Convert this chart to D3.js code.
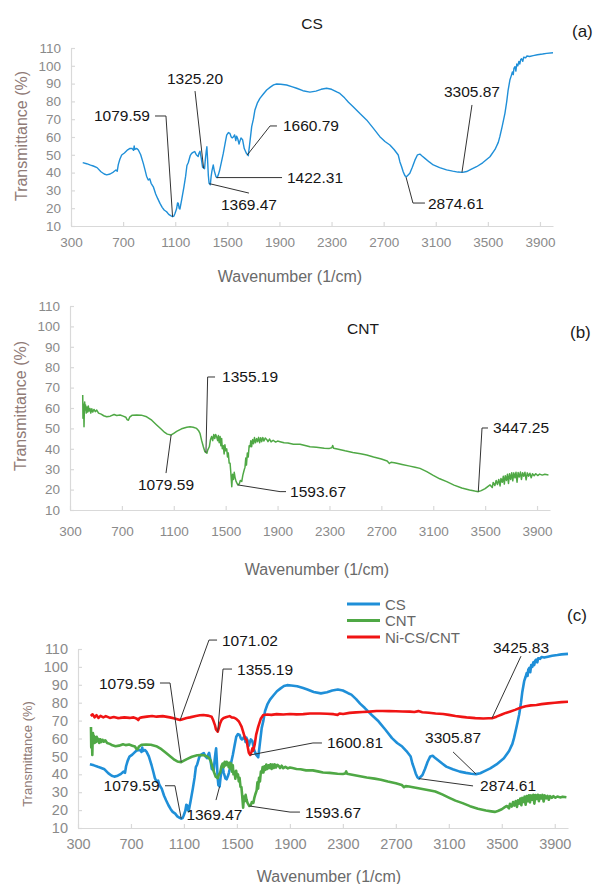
<!DOCTYPE html>
<html>
<head>
<meta charset="utf-8">
<script src="https://cdn.jsdelivr.net/npm/d3@7"></script>
<style>
  body { margin: 0; background: #fff; }
  svg { display: block; }
  text { font-family: "Liberation Sans", Arial, sans-serif; }
</style>
</head>
<body>
<svg id="chart" width="595" height="884"></svg>
<script>
// ---- Axis ticks ----
const xTickValues = [300, 700, 1100, 1500, 1900, 2300, 2700, 3100, 3500, 3900];
const yTickValues = [10, 20, 30, 40, 50, 60, 70, 80, 90, 100, 110];
const xDomain = [300, 4000];
const yDomain = [10, 110];

// ---- FTIR spectra: [wavenumber (1/cm), transmittance (%)] ----
const csSpectrum = [
  [390,45.6],[420,45],[450,44.2],[471,43.7],[500,42.8],[530,40.5],[555,39.2],[574,38.7],[600,39.2],
  [625,40.3],[645,41.5],[655,40.8],[663,44.5],[675,47.5],[689,49.9],[710,51],[735,52.8],[753,53.6],
  [770,53.5],[780,52.5],[785,55],[790,53],[805,53.6],[817,52.7],[835,50],[855,45.2],[870,41],[880,38],
  [893,35.8],[905,36.5],[915,34],[932,32],[950,28],[965,25.5],[983,22.7],[1000,20.5],[1015,19],
  [1034,18],[1050,16.5],[1065,15.8],[1079.59,15.2],[1090,15.6],[1098,17],[1110,19.5],[1118,23],
  [1124,22.7],[1130,20],[1136,19.5],[1150,25],[1167,32],[1180,38],[1190,44],[1200,45.5],[1215,49.5],
  [1226,50.8],[1240,51.5],[1250,51.8],[1262,50],[1276,49],[1283,51],[1290,52],[1300,48],[1310,43],
  [1325.2,42.2],[1332,48],[1338,52],[1343,54.5],[1348,48],[1354,38.6],[1360,34],[1369.47,33.2],
  [1376,38],[1382,41],[1392,44.3],[1400,41],[1413,37.7],[1422.31,37.2],[1432,39],[1440,41],[1455,46],
  [1469,50.8],[1482,56],[1495,61],[1508,62.5],[1520,62],[1530,60],[1538,59.5],[1546,60],[1556,61.2],
  [1565,58],[1571,60.5],[1580,59],[1590,56],[1597,57.8],[1605,59.5],[1617,58.5],[1630,53.5],
  [1645,51],[1660.79,49.5],[1670,55],[1687,65.8],[1700,70],[1712,75.2],[1730,79],[1750,81.7],
  [1775,84],[1802,86.4],[1830,88],[1855,89.3],[1879,89.8],[1910,89.6],[1955,89.2],[2000,88.2],
  [2032,87.4],[2080,86],[2134,85.2],[2180,85.8],[2220,86.8],[2262,87.4],[2300,86.8],[2340,85.3],
  [2364,84.5],[2400,82],[2430,79.5],[2466,77],[2520,73],[2569,69.6],[2620,65],[2671,60.2],
  [2710,57.5],[2748,55.5],[2780,53],[2812,49.9],[2825,46],[2838,43.3],[2850,40.5],[2863,38.3],
  [2874.61,37.6],[2890,38.8],[2901,39.6],[2920,43],[2940,47],[2960,50],[2978,50.4],[2995,49.3],
  [3017,48],[3050,46],[3081,44.3],[3130,42.8],[3183,41.5],[3230,40.8],[3270,40.3],[3305.87,40.1],
  [3337,40.6],[3370,41.8],[3413,43.3],[3460,45.5],[3516,48.9],[3555,53],[3580,57],[3592,60.2],
  [3610,66],[3631,73.3],[3645,80],[3655,86],[3669,92],[3680,94.5],[3688,96.5],[3695,95],[3700,98.5],
  [3708,99.5],[3715,97],[3722,101],[3730,100],[3738,102.5],[3745,101],[3752,103.5],[3759,104],
  [3768,102.5],[3775,104.8],[3790,104.5],[3800,105.5],[3820,105.2],[3848,105.7],[3880,106.2],
  [3920,106.6],[3951,107],[4000,107.3]
];

const cntSpectrum = [
  [398,66.4],[400,55],[403,62],[406,58],[408,50.8],[411,60],[413,63],[417,59],[420,61.5],[425,57.5],
  [430,60.5],[436,58],[441,61],[447,58.5],[454,59.8],[460,57.5],[468,59.6],[475,58],[485,59.3],
  [495,58.2],[506,59],[520,57.5],[540,57],[560,56.2],[583,55.7],[610,56],[640,56.8],[660,56.3],
  [686,56.6],[710,56],[730,55.5],[740,54.3],[750,54],[760,55.5],[780,56.5],[814,56.6],[850,56.5],
  [891,55.7],[930,54],[968,51.7],[1000,49.8],[1030,48],[1050,47.2],[1079.59,46.8],[1100,47.6],
  [1122,48.5],[1160,49.8],[1200,50.6],[1225,50.8],[1250,50.6],[1276,50],[1290,49],[1302,47.6],
  [1315,44],[1328,41],[1340,38.6],[1355.19,37.8],[1362,39.5],[1374,41],[1383,44.5],[1392,46],
  [1400,44],[1408,47],[1416,45],[1423,47],[1431,45.8],[1438,44],[1444,46.5],[1450,43],[1457,46],
  [1463,41.5],[1469,45],[1474,40],[1482,41.5],[1488,37.5],[1494,42],[1500,39],[1508,40],[1514,36],
  [1520,38],[1527,33],[1534,32.9],[1540,28],[1547,21.4],[1553,27.5],[1560,25],[1566,28.5],[1572,26],
  [1580,24],[1593.67,22.3],[1605,22.8],[1613,24.5],[1624,24],[1632,27],[1640,29],[1649,31],
  [1655,35.5],[1660,32],[1667,38],[1674,36],[1681,41.5],[1688,41],[1694,44],[1700,41],[1708,44.5],
  [1715,42.5],[1722,45.5],[1730,43],[1739,45],[1746,43.5],[1754,45.6],[1762,43],[1770,45.4],
  [1778,43.5],[1786,45.5],[1795,43.8],[1805,45.3],[1816,44.6],[1826,43.5],[1838,44.8],[1850,43.4],
  [1866,44.2],[1885,43.3],[1900,43.8],[1919,43.5],[1950,43],[1980,42.8],[2022,42.2],[2073,42.2],
  [2120,41.5],[2150,41],[2200,40.8],[2260,40.3],[2300,40.2],[2318,40.5],[2325,41.6],[2332,40.3],
  [2360,39.9],[2420,39],[2480,38.2],[2540,37.6],[2587,37],[2640,36],[2700,35],[2745,34],[2762,32.8],
  [2775,33.4],[2800,33.2],[2819,32.9],[2860,32.3],[2920,31.5],[2960,31],[2998,30.4],[3050,28.8],
  [3100,27],[3150,25.3],[3204,23.9],[3260,22.2],[3320,20.8],[3380,19.8],[3420,19.3],[3447.25,19],
  [3470,19.5],[3500,20.5],[3520,21.5],[3538,22.3],[3555,21],[3562,23.5],[3575,22],[3585,24.5],
  [3595,22.5],[3605,25],[3615,21.8],[3622,25.5],[3632,23.6],[3640,26.5],[3648,22.7],[3655,26.8],
  [3664,24.5],[3672,27.5],[3680,23],[3688,27.8],[3697,25],[3705,28.3],[3713,24.3],[3721,28.2],
  [3730,25.8],[3738,28.5],[3746,23.6],[3754,28.4],[3763,26.2],[3772,28.6],[3780,25],[3789,28.3],
  [3798,26.5],[3807,28.5],[3816,24.8],[3825,28.2],[3835,26.6],[3845,28],[3855,25.8],[3865,27.8],
  [3878,26.8],[3890,27.8],[3905,26.9],[3920,27.6],[3940,27.1],[3960,27.5],[3988,27.2]
];

const niSpectrum = [
  [396,72.6],[410,73.5],[425,71.8],[440,73],[455,71.5],[470,72.6],[491,71.8],[510,72.5],[540,71.5],
  [570,72],[600,71.4],[617,71.5],[650,71.8],[690,71.5],[720,71.8],[745,71],[755,70.3],[765,71.5],
  [780,71.8],[820,72.2],[860,72.6],[893,72.2],[940,72.5],[994,71.8],[1030,71.2],[1050,70.8],
  [1071.02,70.3],[1090,70.8],[1120,71.5],[1145,71.8],[1190,72.6],[1220,73],[1246,73.1],[1280,72.8],
  [1309,72.2],[1322,70],[1334,67.5],[1342,65],[1355.19,63.8],[1362,65.5],[1372,68.2],[1385,70.5],
  [1400,71.5],[1422,72],[1445,72.5],[1460,71.8],[1480,71.6],[1497,70.8],[1515,69.5],[1535,66.6],
  [1550,63],[1562,60],[1573,59.2],[1580,56],[1590,52],[1600.81,50.8],[1610,52.5],[1617,54.5],
  [1623,53.2],[1635,57],[1645,62],[1661,66.6],[1680,71],[1699,73.1],[1730,73.4],[1760,73.2],
  [1800,73.6],[1850,73.4],[1900,73.7],[1950,73.5],[2001,73.6],[2051,74],[2100,74],[2126,74],
  [2180,73.8],[2230,73.6],[2260,73.2],[2275,74],[2302,73.7],[2350,74.3],[2400,74.6],[2450,74.8],
  [2500,75],[2554,75.4],[2600,75.4],[2650,75.3],[2700,75.2],[2750,75.1],[2806,75],[2840,74.8],
  [2870,75.3],[2900,74.7],[2950,74.4],[3000,74],[3057,73.7],[3100,73.2],[3150,72.6],[3200,72.1],
  [3234,71.8],[3300,71.4],[3360,71.2],[3400,71.3],[3425.83,71.3],[3460,72.2],[3500,73.4],[3530,74.3],
  [3560,75],[3600,76],[3640,77.2],[3680,78],[3720,78.5],[3762,78.7],[3800,79.2],[3850,79.6],
  [3900,80],[3950,80.3],[4000,80.5]
];

const seriesNames = ["CS", "CNT", "Ni-CS/CNT"];
const seriesColors = {"CS": "#1f8fd8", "CNT": "#4fa845", "Ni-CS/CNT": "#f01414"};
const spectra = {"CS": csSpectrum, "CNT": cntSpectrum, "Ni-CS/CNT": niSpectrum};

// ---- Peak annotations: leader from the peak [wavenumber, T] through elbows; label placed in data units ----
const peaksA = [
  {text: "1079.59", path: [[1079.59,15.2],[1029,71.8],[945,71.8]], label: [906,71.8], anchor: "end"},
  {text: "1325.20", path: [[1318,42.4],[1252,85.8]], label: [1252,93.1], anchor: "middle"},
  {text: "1369.47", path: [[1362,33.8],[1666,28.5]], label: [1666,21.8], anchor: "middle"},
  {text: "1422.31", path: [[1417,37.2],[1920,37.2]], label: [1958,37.2], anchor: "start"},
  {text: "1660.79", path: [[1652,49.8],[1828,66.2],[1881,66.2]], label: [1927,66.2], anchor: "start"},
  {text: "2874.61", path: [[2872,37.4],[2925,22.9],[3017,22.9]], label: [3040,22.9], anchor: "start"},
  {text: "3305.87", path: [[3301,40.1],[3378,78]], label: [3378,85.8], anchor: "middle"}
];
const peaksB = [
  {text: "1355.19", path: [[1348,38.2],[1361,75.2],[1418,75.2]], label: [1472,75.2], anchor: "start"},
  {text: "1079.59", path: [[1079.59,46.8],[1040,28.1]], label: [1040,22.6], anchor: "middle"},
  {text: "1593.67", path: [[1593.67,22.3],[1919,19],[1965,19]], label: [1996,19], anchor: "start"},
  {text: "3447.25", path: [[3447.25,19],[3476,50.2],[3522,50.2]], label: [3561,50.2], anchor: "start"}
];
const peaksC = [
  {text: "1071.02", path: [[1071.02,70.3],[1289,115],[1350,115]], label: [1387,115], anchor: "start"},
  {text: "1355.19", path: [[1355.19,63.8],[1395,98.8],[1463,98.8]], label: [1501,98.8], anchor: "start"},
  {text: "1079.59", path: [[1079.59,46.8],[995,91],[919,91]], label: [881,91], anchor: "end"},
  {text: "1079.59", path: [[1079.59,15.2],[1032,33.6],[957,33.6]], label: [916,33.6], anchor: "end"},
  {text: "1369.47", path: [[1369.47,33.2],[1342,25.6]], label: [1330,17.3], anchor: "middle"},
  {text: "1600.81", path: [[1600.81,50.8],[2074,57.5],[2142,57.5]], label: [2180,57.5], anchor: "start"},
  {text: "1593.67", path: [[1593.67,22.3],[1901,18.9],[1976,18.9]], label: [2014,18.9], anchor: "start"},
  {text: "3425.83", path: [[3425.83,71.3],[3645,106]], label: [3645,111], anchor: "middle"},
  {text: "3305.87", path: [[3305.87,40.1],[3132,52.5]], label: [3132,60.3], anchor: "middle"},
  {text: "2874.61", path: [[2874.61,37.6],[3283,33.5]], label: [3336,33.5], anchor: "start"}
];

// ---- Panel layout ----
const panels = [
  {x0: 71, x1: 553, yTop: 48, yBot: 226, series: ["CS"], stroke: 1.4, peaks: peaksA,
   tickFont: 13.5, tickPad: 10, xLabelGap: 11,
   yTitle: {x: 21, y: 136, size: 16}, xTitle: {x: 290, y: 276, size: 16},
   name: {text: "CS", x: 312, y: 23}, tag: {text: "(a)", x: 572, y: 31}},
  {x0: 70, x1: 550, yTop: 306, yBot: 510, series: ["CNT"], stroke: 1.5, peaks: peaksB,
   tickFont: 13.5, tickPad: 10, xLabelGap: 16,
   yTitle: {x: 20, y: 406, size: 16}, xTitle: {x: 317, y: 569, size: 16},
   name: {text: "CNT", x: 363, y: 328}, tag: {text: "(b)", x: 570, y: 332}},
  {x0: 78, x1: 568, yTop: 649, yBot: 828, series: ["CS", "CNT", "Ni-CS/CNT"], stroke: 2.6, peaks: peaksC,
   tickFont: 14.5, tickPad: 10, xLabelGap: 11,
   yTitle: {x: 27, y: 754, size: 13}, xTitle: {x: 329, y: 876, size: 16},
   legend: {x: 347, y: 604, step: 16.5}, tag: {text: "(c)", x: 567, y: 615}}
];

const svg = d3.select("#chart");
const tickColor = "#8a8a8a";
const axisColor = "#d9d9d9";
const plainNumber = d3.format("d");

panels.forEach(p => {
  const x = d3.scaleLinear().domain(xDomain).range([p.x0, p.x1]);
  const y = d3.scaleLinear().domain(yDomain).range([p.yBot, p.yTop]);
  const g = svg.append("g");

  // axes: light gray lines, short inward ticks
  const yAxis = d3.axisLeft(y).tickValues(yTickValues).tickFormat(plainNumber)
    .tickSizeInner(-4).tickSizeOuter(0).tickPadding(p.tickPad);
  const xAxis = d3.axisBottom(x).tickValues(xTickValues).tickFormat(plainNumber)
    .tickSizeInner(-4).tickSizeOuter(0).tickPadding(p.xLabelGap);
  const gy = g.append("g").attr("transform", `translate(${p.x0},0)`).call(yAxis);
  const gx = g.append("g").attr("transform", `translate(0,${p.yBot})`).call(xAxis);
  [gx, gy].forEach(a => {
    a.select(".domain").attr("stroke", axisColor).attr("stroke-width", 1.2);
    a.selectAll(".tick line").attr("stroke", axisColor).attr("stroke-width", 1.2);
    a.selectAll(".tick text").attr("fill", tickColor).attr("font-size", p.tickFont)
      .attr("font-family", "Liberation Sans, Arial, sans-serif");
  });

  // axis titles
  g.append("text").attr("transform", `translate(${p.yTitle.x},${p.yTitle.y}) rotate(-90)`)
    .attr("text-anchor", "middle").attr("dominant-baseline", "central")
    .attr("font-size", p.yTitle.size).attr("fill", "#8f7a76").text("Transmittance (%)");
  g.append("text").attr("x", p.xTitle.x).attr("y", p.xTitle.y)
    .attr("text-anchor", "middle").attr("dominant-baseline", "central")
    .attr("font-size", p.xTitle.size).attr("fill", "#6a6a6a").text("Wavenumber (1/cm)");

  // spectra
  const line = d3.line().x(d => x(d[0])).y(d => y(d[1]));
  p.series.forEach(name => {
    g.append("path").datum(spectra[name]).attr("d", line)
      .attr("fill", "none").attr("stroke", seriesColors[name])
      .attr("stroke-width", p.stroke).attr("stroke-linejoin", "round");
  });

  // peak labels with leader lines
  p.peaks.forEach(pk => {
    g.append("path").datum(pk.path).attr("d", line)
      .attr("fill", "none").attr("stroke", "#333").attr("stroke-width", 1);
    g.append("text").attr("x", x(pk.label[0])).attr("y", y(pk.label[1]))
      .attr("text-anchor", pk.anchor).attr("dominant-baseline", "central")
      .attr("font-size", 15.5).attr("fill", "#151515").text(pk.text);
  });

  if (p.name) {
    g.append("text").attr("x", p.name.x).attr("y", p.name.y).attr("text-anchor", "middle")
      .attr("dominant-baseline", "central").attr("font-size", 15.5).attr("fill", "#1a1a1a").text(p.name.text);
  }
  g.append("text").attr("x", p.tag.x).attr("y", p.tag.y).attr("dominant-baseline", "central")
    .attr("font-size", 17).attr("fill", "#1a1a1a").text(p.tag.text);

  if (p.legend) {
    const lg = g.append("g");
    seriesNames.forEach((name, i) => {
      const ly = p.legend.y + i * p.legend.step;
      lg.append("line").attr("x1", p.legend.x).attr("x2", p.legend.x + 33)
        .attr("y1", ly).attr("y2", ly).attr("stroke", seriesColors[name]).attr("stroke-width", 3);
      lg.append("text").attr("x", p.legend.x + 38).attr("y", ly).attr("dominant-baseline", "central")
        .attr("font-size", 15).attr("fill", "#666").text(name);
    });
  }
});
</script>
</body>
</html>
